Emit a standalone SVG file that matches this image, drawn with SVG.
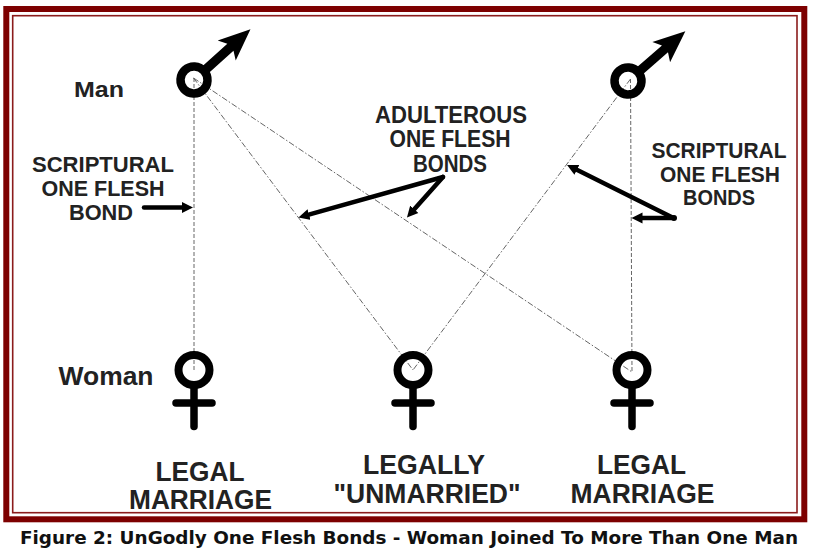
<svg xmlns="http://www.w3.org/2000/svg" width="815" height="553" viewBox="0 0 815 553">
<defs>
<style>
.lbl{font-family:"Liberation Sans",Arial,sans-serif;font-weight:bold;fill:#222;text-anchor:middle}
.side{font-family:"Liberation Sans",Arial,sans-serif;font-weight:bold;fill:#222}
.bond{fill:none;stroke:#666;stroke-width:1;stroke-dasharray:6 2 1.5 2}
.vert{stroke-dasharray:4 2}
.ptr{fill:none;stroke:#000;stroke-width:4.5;stroke-linecap:round}
.ring{fill:none;stroke:#000;stroke-width:8.5}
.bar{fill:none;stroke:#000;stroke-width:7.5;stroke-linecap:round}
.cap{font-family:"DejaVu Sans",Verdana,sans-serif;font-weight:bold;fill:#111;text-anchor:middle}
</style>
<marker id="ah" viewBox="0 -6 12 12" refX="4" refY="0" markerWidth="12" markerHeight="12" markerUnits="userSpaceOnUse" orient="auto">
<path d="M0,-5.5 L11,0 L0,5.5 Z" fill="#000"/>
</marker>
<g id="male">
<circle cx="0" cy="0" r="13.5" class="ring"/>
<path d="M15,-4.6 L49,-4.6 L44,-13.5 L76,0 L44,13.5 L49,4.6 L15,4.6 Z" fill="#000"/>
</g>
<g id="female">
<ellipse cx="0" cy="0" rx="15.5" ry="15" fill="none" stroke="#000" stroke-width="8"/>
<line x1="0" y1="18" x2="0" y2="56.5" class="bar"/>
<line x1="-18" y1="33" x2="18" y2="33" class="bar"/>
</g>
</defs>
<rect width="815" height="553" fill="#fff"/>
<g id="frame">
<rect x="6.3" y="9" width="798" height="510.3" fill="none" stroke="#7d0000" stroke-width="6"/>
<rect x="12.7" y="15.7" width="784.3" height="497" fill="none" stroke="#8b1c1c" stroke-width="1.6"/>
</g>
<g id="connectors">
<line x1="194" y1="78" x2="194" y2="370" class="bond vert"/>
<line x1="193.5" y1="78" x2="413" y2="370" class="bond"/>
<line x1="193.5" y1="78" x2="632" y2="372" class="bond"/>
<line x1="630.5" y1="79" x2="413" y2="370" class="bond"/>
<line x1="630.5" y1="79" x2="632" y2="372" class="bond vert"/>
</g>
<g id="man-left"><use href="#male" transform="translate(194,80) rotate(-42)"/></g>
<g id="man-right"><use href="#male" transform="translate(628,81) rotate(-41)"/></g>
<g id="woman-left"><use href="#female" transform="translate(194,370)"/></g>
<g id="woman-middle"><use href="#female" transform="translate(413,370)"/></g>
<g id="woman-right"><use href="#female" transform="translate(632,370)"/></g>
<g id="row-labels">
<text class="side" x="74" y="97" font-size="22.5" textLength="50" lengthAdjust="spacingAndGlyphs">Man</text>
<text class="side" x="58.5" y="385" font-size="25" textLength="95" lengthAdjust="spacingAndGlyphs">Woman</text>
</g>
<g id="label-scriptural-left">
<text class="lbl" x="103" y="172" font-size="22" textLength="142" lengthAdjust="spacingAndGlyphs">SCRIPTURAL</text>
<text class="lbl" x="103" y="195.5" font-size="22" textLength="123" lengthAdjust="spacingAndGlyphs">ONE FLESH</text>
<text class="lbl" x="101" y="219.5" font-size="22" textLength="64" lengthAdjust="spacingAndGlyphs">BOND</text>
</g>
<g id="label-adulterous">
<text class="lbl" x="451" y="122.5" font-size="24" textLength="152" lengthAdjust="spacingAndGlyphs">ADULTEROUS</text>
<text class="lbl" x="450" y="147" font-size="24" textLength="121" lengthAdjust="spacingAndGlyphs">ONE FLESH</text>
<text class="lbl" x="450" y="171.5" font-size="24" textLength="74" lengthAdjust="spacingAndGlyphs">BONDS</text>
</g>
<g id="label-scriptural-right">
<text class="lbl" x="719" y="158" font-size="22" textLength="135" lengthAdjust="spacingAndGlyphs">SCRIPTURAL</text>
<text class="lbl" x="720" y="181.5" font-size="22" textLength="120" lengthAdjust="spacingAndGlyphs">ONE FLESH</text>
<text class="lbl" x="719" y="205" font-size="22" textLength="72" lengthAdjust="spacingAndGlyphs">BONDS</text>
</g>
<g id="pointers">
<line x1="144" y1="207.5" x2="186" y2="207.5" class="ptr" marker-end="url(#ah)"/>
<line x1="443" y1="177" x2="305.2" y2="215.6" class="ptr" marker-end="url(#ah)"/>
<line x1="443" y1="177" x2="411.6" y2="212.3" class="ptr" marker-end="url(#ah)"/>
<line x1="673.5" y1="218" x2="573.3" y2="168.1" class="ptr" marker-end="url(#ah)"/>
<line x1="673.5" y1="218" x2="638.5" y2="218" class="ptr" marker-end="url(#ah)"/>
<circle cx="674" cy="218" r="3" fill="#000"/>
</g>
<g id="status-labels">
<text class="lbl" x="200" y="480.5" font-size="27" textLength="89" lengthAdjust="spacingAndGlyphs">LEGAL</text>
<text class="lbl" x="200.5" y="509" font-size="27" textLength="143" lengthAdjust="spacingAndGlyphs">MARRIAGE</text>
<text class="lbl" x="424" y="474" font-size="27" textLength="122" lengthAdjust="spacingAndGlyphs">LEGALLY</text>
<text class="lbl" x="427" y="503" font-size="27" textLength="187" lengthAdjust="spacingAndGlyphs">"UNMARRIED"</text>
<text class="lbl" x="641.5" y="474" font-size="27" textLength="89" lengthAdjust="spacingAndGlyphs">LEGAL</text>
<text class="lbl" x="642.5" y="503" font-size="27" textLength="144" lengthAdjust="spacingAndGlyphs">MARRIAGE</text>
</g>
<text class="cap" x="409" y="544" font-size="17" textLength="778" lengthAdjust="spacingAndGlyphs">Figure 2: UnGodly One Flesh Bonds - Woman Joined To More Than One Man</text>
</svg>
